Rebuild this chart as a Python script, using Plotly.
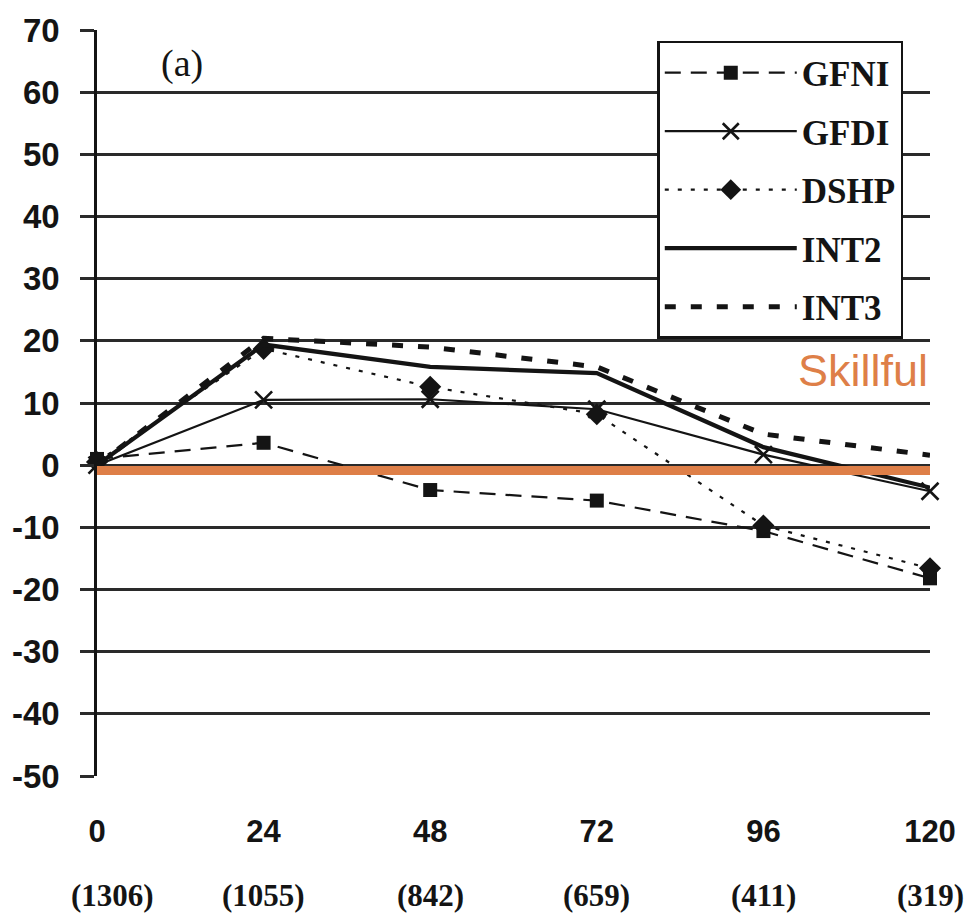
import plotly.graph_objects as go

# ---- data ----
lead_hours = [0, 24, 48, 72, 96, 120]
case_counts = ["(1306)", "(1055)", "(842)", "(659)", "(411)", "(319)"]
x_tick_labels = ["0", "24", "48", "72", "96", "120"]

gfni = [1.0, 3.6, -4.0, -5.7, -10.6, -18.2]
gfdi = [0.0, 10.5, 10.6, 9.0, 1.7, -4.2]
dshp = [0.5, 18.7, 12.6, 8.2, -9.7, -16.6]
int2 = [0.0, 19.4, 15.8, 14.8, 2.9, -3.6]
int3 = [0.0, 20.4, 19.0, 15.8, 5.0, 1.6]

y_tick_vals = [-50, -40, -30, -20, -10, 0, 10, 20, 30, 40, 50, 60, 70]
y_tick_labels = ["-50", "-40", "-30", "-20", "-10", "0", "10", "20", "30", "40", "50", "60", "70"]

skill_threshold = -0.85
panel_label = "(a)"
skill_label = "Skillful"

INK = "#141414"
ORANGE = "#DE7F48"

fig = go.Figure()

series = [
    ("GFNI", gfni, dict(width=2.2, dash="16px,10px"), dict(symbol="square", size=14, color=INK)),
    ("GFDI", gfdi, dict(width=2.2, dash="solid"), dict(symbol="x-thin-open", size=17, line=dict(width=2.6, color=INK), color=INK)),
    ("DSHP", dshp, dict(width=2.2, dash="4px,9px"), dict(symbol="diamond", size=17, color=INK)),
    ("INT2", int2, dict(width=4.2, dash="solid"), None),
    ("INT3", int3, dict(width=5, dash="11px,15px"), None),
]

for name, vals, line, marker in series:
    kw = dict(
        x=lead_hours, y=vals, name=name, legendgroup=name,
        line=dict(color=INK, **line), cliponaxis=False,
    )
    if marker is None:
        kw["mode"] = "lines"
    else:
        kw["mode"] = "lines+markers"
        kw["marker"] = marker
    fig.add_trace(go.Scatter(**kw))

# skill threshold line
fig.add_shape(type="line", xref="x", yref="y", x0=-0.85, x1=123.0,
              y0=skill_threshold, y1=skill_threshold,
              line=dict(color=ORANGE, width=9), layer="above")

fig.add_annotation(x=120, y=15.2, xref="x", yref="y", text=skill_label,
                   showarrow=False, xanchor="right", yanchor="middle",
                   font=dict(family="Liberation Sans, Arial", size=45, color=ORANGE))

fig.add_annotation(x=12.2, y=64.6, xref="x", yref="y", text=panel_label,
                   showarrow=False, xanchor="center", yanchor="middle",
                   font=dict(family="Liberation Serif, Times New Roman", size=38, color=INK))

for i, (xv, cnt) in enumerate(zip(lead_hours, case_counts)):
    fig.add_annotation(x=xv, y=-0.16, xref="x", yref="paper", text=cnt,
                       showarrow=False, xanchor="center", yanchor="middle",
                       xshift=15 if i == 0 else 0,
                       font=dict(family="Liberation Serif, Times New Roman", size=31,
                                 color=INK, weight="bold"))

fig.update_layout(
    width=968, height=917,
    margin=dict(l=93, r=38, t=27, b=141),
    paper_bgcolor="white", plot_bgcolor="white",
    showlegend=True,
    legend=dict(
        x=0.6726, y=0.9853, xanchor="left", yanchor="top",
        bgcolor="white", bordercolor=INK, borderwidth=2.5,
        font=dict(family="Liberation Serif, Times New Roman", size=35, color=INK, weight="bold"),
        itemwidth=132, tracegroupgap=10, itemsizing="trace",
    ),
    xaxis=dict(
        range=[0, 120], showgrid=False, zeroline=False, showline=False,
        tickmode="array", tickvals=lead_hours, ticktext=x_tick_labels,
        ticks="", ticklabelstandoff=34,
        tickfont=dict(family="Liberation Sans, Arial", size=31, color=INK, weight="bold"),
    ),
    yaxis=dict(
        range=[-50, 70], tickmode="array", tickvals=y_tick_vals, ticktext=y_tick_labels,
        showgrid=True, gridcolor="#2a2a2a", gridwidth=2.5,
        zeroline=True, zerolinecolor="#2a2a2a", zerolinewidth=2.5,
        showline=True, linecolor=INK, linewidth=2.5,
        ticks="outside", ticklen=14, tickwidth=2.5, tickcolor="#2a2a2a",
        ticklabelstandoff=14,
        tickfont=dict(family="Liberation Sans, Arial", size=33, color=INK, weight="bold"),
    ),
)

fig.write_html("out.html")
